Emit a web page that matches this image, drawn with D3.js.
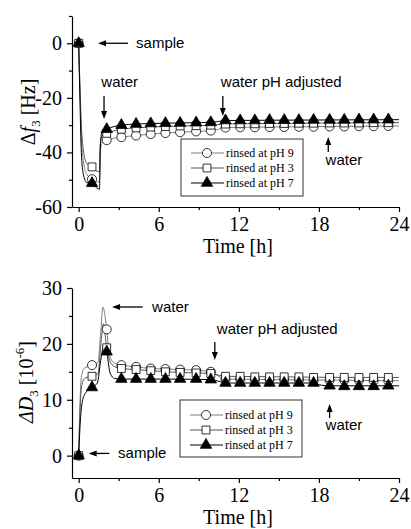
<!DOCTYPE html>
<html>
<head>
<meta charset="utf-8">
<script src="https://cdn.jsdelivr.net/npm/d3@7"></script>
<style>
  body { margin: 0; background: #fff; }
  svg { display: block; }
  .tick text { font-family: "Liberation Serif", "Times New Roman", serif; font-size: 20px; fill: #000; }
  .domain, .tick line { stroke: #000; stroke-width: 1.2px; }
  .note { font-family: "Liberation Sans", Arial, sans-serif; font-size: 15px; fill: #000; }
  .leg { font-family: "Liberation Serif", "Times New Roman", serif; font-size: 12px; fill: #000; }
  .title { font-family: "Liberation Serif", "Times New Roman", serif; font-size: 20px; fill: #000; }
</style>
</head>
<body>
<svg id="chart" width="411" height="529"></svg>
<script>
// marker times (h), shared by both panels
const times = [0, 1.0, 2.1, 3.2, 4.3, 5.4, 6.5, 7.6, 8.8, 9.9, 11.0, 12.1, 13.2, 14.3, 15.4, 16.5, 17.6, 18.8, 19.9, 21.0, 22.1, 23.2];

// delta f3 [Hz] at the markers
const f3_pH9 = [0, -49.8, -35.5, -34.4, -33.8, -33.3, -32.9, -32.6, -32.3, -32.0, -30.9, -30.8, -30.8, -30.7, -30.7, -30.6, -30.6, -30.5, -30.5, -30.4, -30.4, -30.3];
const f3_pH3 = [0, -45.3, -33.0, -31.5, -31.0, -30.7, -30.5, -30.3, -30.2, -30.0, -29.6, -29.5, -29.5, -29.4, -29.4, -29.3, -29.3, -29.2, -29.2, -29.2, -29.1, -29.1];
const f3_pH7 = [0, -51.3, -31.5, -30.0, -29.6, -29.4, -29.3, -29.2, -29.1, -29.0, -28.3, -28.3, -28.3, -28.2, -28.2, -28.2, -28.1, -28.1, -28.1, -28.0, -28.0, -28.0];

// delta D3 [1e-6] at the markers
const D3_pH9 = [0, 16.2, 22.6, 16.2, 15.9, 15.6, 15.5, 15.4, 15.3, 15.0, 13.7, 13.7, 13.6, 13.6, 13.6, 13.6, 13.5, 13.5, 13.5, 13.5, 13.4, 13.4];
const D3_pH3 = [0, 14.2, 19.3, 15.6, 15.4, 15.2, 15.0, 14.9, 14.8, 14.7, 14.2, 14.2, 14.1, 14.1, 14.1, 14.1, 14.0, 14.0, 14.0, 14.0, 14.0, 14.0];
const D3_pH7 = [0, 12.2, 18.6, 13.7, 13.7, 13.7, 13.7, 13.7, 13.7, 13.6, 13.0, 13.0, 13.0, 13.0, 13.0, 13.0, 13.0, 12.5, 12.4, 12.4, 12.4, 12.5];

// continuous traces [t, value]
const f3Trace_pH9 = [[0,0],[0.1,-18],[0.2,-34],[0.35,-43],[0.6,-48],[1.0,-49.8],[1.45,-50.8],[1.56,-50.5],[1.62,-40],[1.75,-36.5],[2.1,-35.5],[3.2,-34.4],[4.3,-33.8],[5.4,-33.3],[6.5,-32.9],[7.6,-32.6],[8.8,-32.3],[9.9,-32.0],[10.4,-31.6],[11.0,-30.9],[14.3,-30.7],[18.8,-30.5],[24,-30.3]];
const f3Trace_pH3 = [[0,0],[0.1,-16],[0.2,-30],[0.35,-39],[0.6,-44],[1.0,-45.3],[1.45,-47],[1.56,-47],[1.62,-37],[1.75,-33.8],[2.1,-33.0],[3.2,-31.5],[4.3,-31.0],[5.4,-30.7],[6.5,-30.5],[7.6,-30.3],[8.8,-30.2],[9.9,-30.0],[10.4,-29.8],[11.0,-29.6],[14.3,-29.4],[18.8,-29.2],[24,-29.1]];
const f3Trace_pH7 = [[0,0],[0.1,-22],[0.2,-40],[0.35,-48],[0.6,-51],[1.0,-51.5],[1.45,-53.3],[1.56,-53.5],[1.62,-38],[1.75,-32.5],[2.1,-31.5],[3.2,-30.0],[4.3,-29.6],[5.4,-29.4],[6.5,-29.3],[7.6,-29.2],[8.8,-29.1],[9.9,-29.0],[10.4,-28.7],[11.0,-28.3],[14.3,-28.2],[18.8,-28.1],[24,-28.0]];

const D3Trace_pH9 = [[0,0],[0.08,8],[0.2,14],[0.4,15.6],[1.0,16.2],[1.45,16.7],[1.65,22],[1.82,26.6],[2.0,24.5],[2.1,22.6],[2.3,18.2],[2.6,16.7],[3.2,16.2],[4.3,15.9],[5.4,15.6],[6.5,15.5],[7.6,15.4],[8.8,15.3],[9.9,15.0],[10.5,14.2],[11.0,13.7],[15.4,13.6],[19.9,13.5],[24,13.4]];
const D3Trace_pH3 = [[0,0],[0.1,8],[0.25,12.8],[0.5,13.9],[1.0,14.2],[1.45,14.7],[1.68,20.5],[1.85,23.6],[2.1,19.3],[2.4,16.6],[2.8,15.8],[3.2,15.6],[4.3,15.4],[5.4,15.2],[6.5,15.0],[7.6,14.9],[8.8,14.8],[9.9,14.7],[10.5,14.4],[11.0,14.2],[15.4,14.1],[19.9,14.0],[24,14.0]];
const D3Trace_pH7 = [[0,0],[0.12,6],[0.3,10],[0.6,11.5],[1.0,12.2],[1.4,13.0],[1.65,17],[1.9,19.8],[2.1,18.6],[2.35,14.8],[2.7,13.8],[3.2,13.7],[6.5,13.7],[9.9,13.6],[10.5,13.3],[11.0,13.0],[17.6,13.0],[18.2,12.6],[18.8,12.5],[24,12.5]];

const seriesNames = ["rinsed at pH 9", "rinsed at pH 3", "rinsed at pH 7"];

document.addEventListener('DOMContentLoaded', function(){
    drawChart();
});

function drawChart(){
    const svg = d3.select("#chart");

    const x = d3.scaleLinear().domain([-0.5, 24]).range([72, 399]);
    const yTop = d3.scaleLinear().domain([-60, 10]).range([207, 16]);
    const yBot = d3.scaleLinear().domain([-4, 30]).range([478, 288]);

    const styles = [
        {shape: d3.symbolCircle, size: 64, fill: "#fff", line: "#808080"},
        {shape: d3.symbolSquare, size: 62, fill: "#fff", line: "#555"},
        {shape: d3.symbolTriangle, size: 56, fill: "#000", line: "#000"}
    ];

    // ---- top panel
    drawPanel(svg, x, yTop, {
        yTicks: [0, -20, -40, -60], yMinor: [10, -10, -30, -50], xAxisY: 207,
        traces: [f3Trace_pH9, f3Trace_pH3, f3Trace_pH7],
        values: [f3_pH9, f3_pH3, f3_pH7]
    }, styles);

    // ---- bottom panel
    drawPanel(svg, x, yBot, {
        yTicks: [0, 10, 20, 30], yMinor: [5, 15, 25], xAxisY: 478,
        traces: [D3Trace_pH9, D3Trace_pH3, D3Trace_pH7],
        values: [D3_pH9, D3_pH3, D3_pH7]
    }, styles);

    // axis titles
    svg.append("text").attr("class", "title")
        .attr("x", 238).attr("y", 253).attr("text-anchor", "middle")
        .text("Time [h]");
    svg.append("text").attr("class", "title")
        .attr("x", 238).attr("y", 524).attr("text-anchor", "middle")
        .text("Time [h]");

    const t1 = svg.append("text").attr("class", "title")
        .attr("transform", "translate(35,112) rotate(-90)")
        .attr("text-anchor", "middle");
    t1.append("tspan").text("\u0394");
    t1.append("tspan").attr("font-style", "italic").text("f");
    t1.append("tspan").attr("font-size", "13px").attr("dy", 5).text("3");
    t1.append("tspan").attr("dy", -5).text(" [Hz]");

    const t2 = svg.append("text").attr("class", "title")
        .attr("transform", "translate(33,382) rotate(-90)")
        .attr("text-anchor", "middle");
    t2.append("tspan").attr("font-style", "italic").text("\u0394D");
    t2.append("tspan").attr("font-size", "13px").attr("dy", 5).text("3");
    t2.append("tspan").attr("dy", -5).text(" [10");
    t2.append("tspan").attr("font-size", "13px").attr("dy", -9).text("-6");
    t2.append("tspan").attr("dy", 9).text("]");

    // annotations, top
    arrowLeft(svg, x(1.45), x(3.7), yTop(0));
    note(svg, x(4.3), yTop(0) + 5, "sample");
    note(svg, x(1.7), 87, "water");
    arrowDown(svg, x(1.9), 96, 119);
    note(svg, x(10.65), 87, "water pH adjusted");
    arrowDown(svg, x(10.8), 96, 116);
    arrowUp(svg, x(18.7), 137, 152);
    note(svg, x(18.5), 165, "water");

    // annotations, bottom
    arrowLeft(svg, x(2.5), x(4.8), 307);
    note(svg, x(5.5), 312, "water");
    note(svg, x(10.35), 334, "water pH adjusted");
    arrowDown(svg, x(10.2), 342, 360);
    arrowUp(svg, x(18.8), 404, 418);
    note(svg, x(18.5), 430, "water");
    arrowLeft(svg, x(0.75), x(2.3), yBot(0.4));
    note(svg, x(2.95), yBot(0.4) + 5, "sample");

    // legends
    legend(svg, styles, 181, 139, 122, 57, 153);
    legend(svg, styles, 180, 400, 122, 57, 415);
}

function drawPanel(svg, x, y, cfg, styles){
    const g = svg.append("g");

    g.append("g").attr("transform", `translate(0,${cfg.xAxisY})`)
        .call(d3.axisBottom(x).tickValues([0, 6, 12, 18, 24]).tickSize(5).tickPadding(5).tickSizeOuter(0));
    g.append("g").attr("transform", `translate(0,${cfg.xAxisY})`)
        .call(d3.axisBottom(x).tickValues([3, 9, 15, 21]).tickSize(3).tickFormat("").tickSizeOuter(0))
        .select(".domain").remove();

    // plain hyphen for negatives, as in the original figure
    g.append("g").attr("transform", `translate(${x.range()[0]},0)`)
        .call(d3.axisLeft(y).tickValues(cfg.yTicks).tickSize(5).tickPadding(5).tickSizeOuter(0)
            .tickFormat(d => String(d)));
    g.append("g").attr("transform", `translate(${x.range()[0]},0)`)
        .call(d3.axisLeft(y).tickValues(cfg.yMinor).tickSize(3).tickFormat("").tickSizeOuter(0))
        .select(".domain").remove();

    const line = d3.line()
        .x(d => x(d[0]))
        .y(d => y(d[1]))
        .curve(d3.curveMonotoneX);

    cfg.traces.forEach((tr, i) => {
        g.append("path").datum(tr)
            .attr("d", line)
            .attr("fill", "none")
            .attr("stroke", styles[i].line)
            .attr("stroke-width", 1);
    });

    cfg.values.forEach((vals, i) => {
        const st = styles[i];
        g.append("g").selectAll("path")
            .data(vals.map((v, k) => [times[k], v]))
            .join("path")
            .attr("transform", d => `translate(${x(d[0])},${y(d[1])})`)
            .attr("d", d3.symbol().type(st.shape).size(st.size))
            .attr("fill", st.fill)
            .attr("stroke", "#000")
            .attr("stroke-width", 0.8);
    });
}

function legend(svg, styles, bx, by, bw, bh, firstRow){
    svg.append("rect")
        .attr("x", bx).attr("y", by).attr("width", bw).attr("height", bh)
        .attr("fill", "#fff").attr("stroke", "#333").attr("stroke-width", 1);
    styles.forEach((st, i) => {
        const ry = firstRow + i * 15;
        svg.append("line")
            .attr("x1", bx + 10).attr("x2", bx + 43).attr("y1", ry).attr("y2", ry)
            .attr("stroke", st.line).attr("stroke-width", 1);
        svg.append("path")
            .attr("transform", `translate(${bx + 26},${ry})`)
            .attr("d", d3.symbol().type(st.shape).size(st.size))
            .attr("fill", st.fill).attr("stroke", "#000").attr("stroke-width", 0.8);
        svg.append("text").attr("class", "leg")
            .attr("x", bx + 45).attr("y", ry + 4)
            .text(seriesNames[i]);
    });
}

function note(svg, x, y, txt){
    svg.append("text").attr("class", "note").attr("x", x).attr("y", y).text(txt);
}

function arrowLeft(svg, x1, x2, y){
    svg.append("line").attr("x1", x1 + 5).attr("x2", x2).attr("y1", y).attr("y2", y)
        .attr("stroke", "#000").attr("stroke-width", 1.3);
    svg.append("path").attr("d", `M${x1},${y}L${x1 + 8},${y - 3}L${x1 + 8},${y + 3}Z`).attr("fill", "#000");
}

function arrowDown(svg, x, y1, y2){
    svg.append("line").attr("x1", x).attr("x2", x).attr("y1", y1).attr("y2", y2 - 5)
        .attr("stroke", "#000").attr("stroke-width", 1.3);
    svg.append("path").attr("d", `M${x},${y2}L${x - 3},${y2 - 8}L${x + 3},${y2 - 8}Z`).attr("fill", "#000");
}

function arrowUp(svg, x, y1, y2){
    svg.append("line").attr("x1", x).attr("x2", x).attr("y1", y1 + 5).attr("y2", y2)
        .attr("stroke", "#000").attr("stroke-width", 1.3);
    svg.append("path").attr("d", `M${x},${y1}L${x - 3},${y1 + 8}L${x + 3},${y1 + 8}Z`).attr("fill", "#000");
}
</script>
</body>
</html>
